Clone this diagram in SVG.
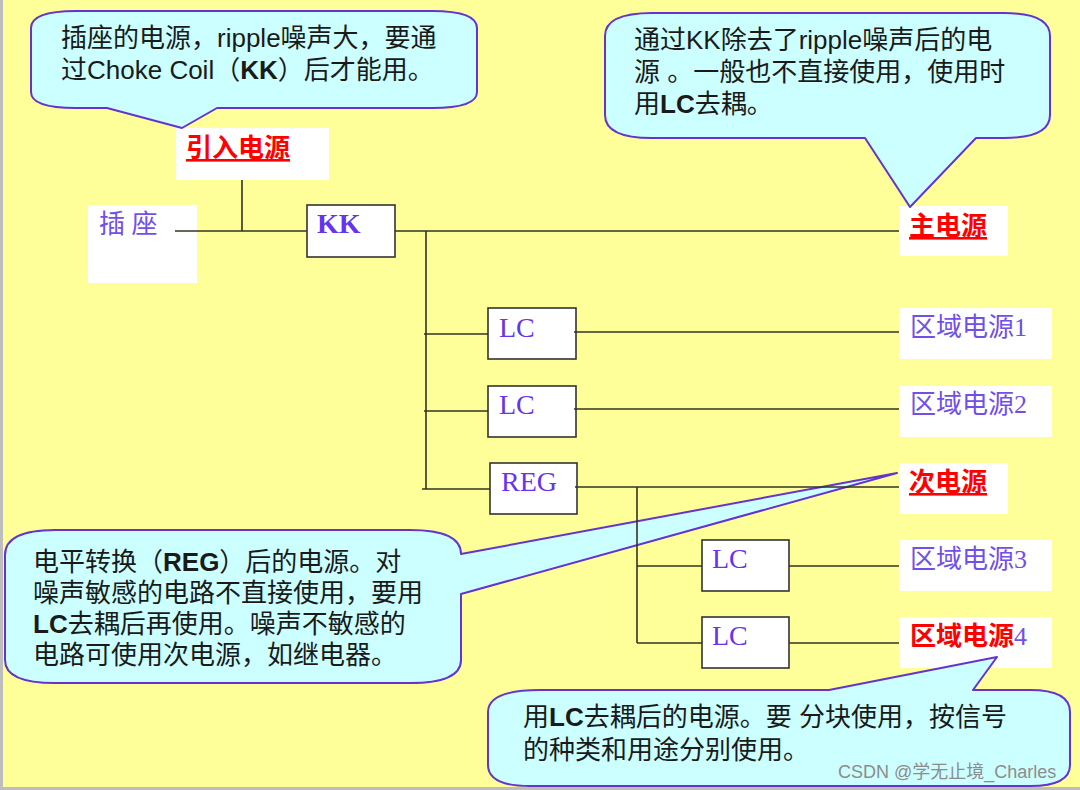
<svg xmlns="http://www.w3.org/2000/svg" width="1080" height="790" viewBox="0 0 1080 790">
<defs>
<style>
.bg{fill:#FFFF99}
.edge{fill:#bdbdbd}
.box{fill:#ffffff;stroke:#333333;stroke-width:1.6}
.lbl{fill:#ffffff}
.w{stroke:#333322;stroke-width:1.6;fill:none}
.bub{fill:#CCFFFF;stroke:#6633CC;stroke-width:2;stroke-linejoin:round}
.bt{font-family:"Liberation Sans","Noto Sans CJK SC",sans-serif;font-size:26px;fill:#1a1a1a}
.b{font-weight:bold}
.pl{font-family:"Liberation Serif","Noto Sans CJK SC",serif;font-size:28px;fill:#6633EE}
.pc{font-family:"Liberation Serif","Noto Sans CJK SC",serif;font-size:26px;fill:#7050E8}
.red{font-family:"Liberation Sans","Noto Sans CJK SC",sans-serif;font-size:26px;font-weight:bold;fill:#FF0000}
.wm{font-family:"Liberation Sans","Noto Sans CJK SC",sans-serif;font-size:18px;fill:#8c8c8c}
</style>
</defs>
<rect class="bg" x="0" y="0" width="1080" height="790"/>

<g id="nodes">
<g id="n-yinru"><rect class="lbl" x="176" y="128" width="153" height="52"/><text class="red" x="186" y="157" text-decoration="underline">引入电源</text></g>
<g id="n-chazuo"><rect class="lbl" x="88" y="205" width="109" height="78"/><text class="pc" x="99" y="233">插 座</text></g>
<g id="n-kk"><rect class="box" x="307" y="205" width="88" height="52"/><text class="pl b" x="317" y="233" font-size="27">KK</text></g>
<g id="n-zhu"><rect class="lbl" x="899" y="206" width="109" height="50"/><text class="red" x="909" y="235" text-decoration="underline">主电源</text></g>
<g id="n-lc1"><rect class="box" x="488" y="308" width="88" height="51"/><text class="pl" x="499" y="337">LC</text></g>
<g id="n-qy1"><rect class="lbl" x="899" y="308" width="153" height="51"/><text class="pc" x="910" y="336">区域电源1</text></g>
<g id="n-lc2"><rect class="box" x="488" y="386" width="88" height="51"/><text class="pl" x="499" y="414">LC</text></g>
<g id="n-qy2"><rect class="lbl" x="899" y="386" width="153" height="51"/><text class="pc" x="910" y="413">区域电源2</text></g>
<g id="n-reg"><rect class="box" x="490" y="463" width="87" height="51"/><text class="pl" x="501" y="491">REG</text></g>
<g id="n-ci"><rect class="lbl" x="899" y="463" width="109" height="51"/><text class="red" x="909" y="491" text-decoration="underline">次电源</text></g>
<g id="n-lc3"><rect class="box" x="702" y="540" width="87" height="51"/><text class="pl" x="712" y="568">LC</text></g>
<g id="n-qy3"><rect class="lbl" x="899" y="540" width="153" height="51"/><text class="pc" x="910" y="568">区域电源3</text></g>
<g id="n-lc4"><rect class="box" x="702" y="617" width="87" height="51"/><text class="pl" x="712" y="645">LC</text></g>
<g id="n-qy4"><rect class="lbl" x="899" y="617" width="153" height="51"/><text x="910" y="645"><tspan class="red">区域电源</tspan><tspan class="pc">4</tspan></text></g>
</g>

<g id="callouts">
<g id="c1"><path class="bub" d="M76,11 H432 Q477,11 477,28 V92 Q477,108 432,108 H217 L182,128 L107,108 H76 Q31,108 31,92 V28 Q31,11 76,11 Z"/>
<text class="bt" x="61" y="47">插座的电源，ripple噪声大，要通</text>
<text class="bt" x="61" y="79">过Choke Coil（<tspan class="b">KK</tspan>）后才能用。</text></g>
<g id="c2"><path class="bub" d="M652,13 H1004 Q1050,13 1050,36 V115 Q1050,138 1004,138 H976 L910,207 L865,138 H652 Q605,138 605,115 V36 Q605,13 652,13 Z"/>
<text class="bt" x="634" y="49">通过KK除去了ripple噪声后的电</text>
<text class="bt" x="634" y="81">源 。一般也不直接使用，使用时</text>
<text class="bt" x="634" y="113">用<tspan class="b">LC</tspan>去耦。</text></g>
<g id="c3"><path class="bub" d="M55,530 H410 Q461,530 461,554 L897,473 L461,594 V660 Q461,683 410,683 H55 Q5,683 5,660 V555 Q5,530 55,530 Z"/>
<text class="bt" x="33" y="571">电平转换（<tspan class="b">REG</tspan>）后的电源。对</text>
<text class="bt" x="33" y="602">噪声敏感的电路不直接使用，要用</text>
<text class="bt" x="33" y="633"><tspan class="b">LC</tspan>去耦后再使用。噪声不敏感的</text>
<text class="bt" x="33" y="664">电路可使用次电源，如继电器。</text></g>
<g id="c4"><path class="bub" d="M540,690 H829 L997,657 L973,690 H1030 Q1070,690 1070,712 V765 Q1070,786 1030,786 H530 Q488,786 488,765 V712 Q488,690 540,690 Z"/>
<text class="bt" x="523" y="726">用<tspan class="b">LC</tspan>去耦后的电源。要 分块使用，按信号</text>
<text class="bt" x="523" y="759">的种类和用途分别使用。</text></g>
</g>

<g id="connectors">
<line class="w" x1="175" y1="231" x2="307" y2="231"/>
<line class="w" x1="242" y1="180" x2="242" y2="231"/>
<line class="w" x1="395" y1="231" x2="899" y2="231"/>
<line class="w" x1="426" y1="231" x2="426" y2="489"/>
<line class="w" x1="424" y1="334" x2="488" y2="334"/>
<line class="w" x1="574" y1="332" x2="899" y2="332"/>
<line class="w" x1="424" y1="411" x2="488" y2="411"/>
<line class="w" x1="574" y1="409" x2="899" y2="409"/>
<line class="w" x1="422" y1="489" x2="490" y2="489"/>
<line class="w" x1="575" y1="487" x2="899" y2="487"/>
<line class="w" x1="637" y1="487" x2="637" y2="643"/>
<line class="w" x1="637" y1="566" x2="702" y2="566"/>
<line class="w" x1="789" y1="566" x2="899" y2="566"/>
<line class="w" x1="637" y1="643" x2="702" y2="643"/>
<line class="w" x1="789" y1="643" x2="899" y2="643"/>
</g>

<text class="wm" x="838" y="778">CSDN @学无止境_Charles</text>
<rect class="edge" x="0" y="0" width="3" height="790"/>
<rect class="edge" x="0" y="787" width="1080" height="3"/>
</svg>
